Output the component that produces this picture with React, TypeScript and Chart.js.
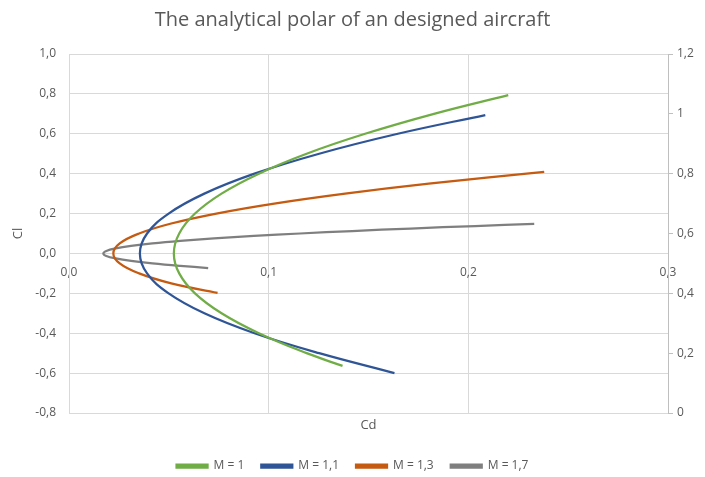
import React, { useEffect, useRef } from "react";
import { Chart, registerables } from "chart.js";

Chart.register(...registerables);

const chartTitle = "The analytical polar of an designed aircraft";
const xAxisTitle = "Cd";
const yAxisTitle = "Cl";
const seriesNames = ["M = 1", "M = 1,1", "M = 1,3", "M = 1,7"];
const seriesColors = ["#70AD47", "#2F5597", "#C55A11", "#7F7F7F"];

// M = 1
const m1Cd = [0.137, 0.119, 0.0951, 0.0764, 0.0631, 0.0552, 0.0525, 0.0552, 0.0631, 0.0764, 0.0951, 0.119, 0.1483, 0.1828, 0.22];
const m1Cl = [-0.564, -0.5, -0.4, -0.3, -0.2, -0.1, 0, 0.1, 0.2, 0.3, 0.4, 0.5, 0.6, 0.7, 0.794];
// M = 1,1
const m11Cd = [0.163, 0.1253, 0.0929, 0.0678, 0.0499, 0.0391, 0.0355, 0.0391, 0.0499, 0.0678, 0.0929, 0.1253, 0.1647, 0.2085];
const m11Cl = [-0.6, -0.5, -0.4, -0.3, -0.2, -0.1, 0, 0.1, 0.2, 0.3, 0.4, 0.5, 0.6, 0.694];
// M = 1,3
const m13Cd = [0.0744, 0.0512, 0.0351, 0.0254, 0.0222, 0.0254, 0.0351, 0.0512, 0.0738, 0.1028, 0.1383, 0.1802, 0.238];
const m13Cl = [-0.198, -0.15, -0.1, -0.05, 0, 0.05, 0.1, 0.15, 0.2, 0.25, 0.3, 0.35, 0.409];
// M = 1,7
const m17Cd = [0.0697, 0.0557, 0.0418, 0.0311, 0.0234, 0.0187, 0.0172, 0.0187, 0.0234, 0.0311, 0.0418, 0.0557, 0.0726, 0.0926, 0.1157, 0.1419, 0.1711, 0.2034, 0.233];
const m17Cl = [-0.073, -0.0625, -0.05, -0.0375, -0.025, -0.0125, 0, 0.0125, 0.025, 0.0375, 0.05, 0.0625, 0.075, 0.0875, 0.1, 0.1125, 0.125, 0.1375, 0.148];

const seriesCd = [m1Cd, m11Cd, m13Cd, m17Cd];
const seriesCl = [m1Cl, m11Cl, m13Cl, m17Cl];

const xMin = 0, xMax = 0.3, xStep = 0.1;
const yMin = -0.8, yMax = 1.0, yStep = 0.2;
const y2Min = 0, y2Max = 1.2, y2Step = 0.2;

const FONT = "'Open Sans', Lato, sans-serif";
const TEXT = "#595959";
const GRID = "#D9D9D9";

const fmt = (v: number) => {
  const r = Math.round(v * 10) / 10;
  return (Object.is(r, -0) ? 0 : r).toFixed(1).replace(".", ",");
};
const fmtGeneral = (v: number) => {
  const r = Math.round(v * 10) / 10;
  return String(r).replace(".", ",");
};

const cdTitlePlugin = {
  id: "cdTitle",
  afterDraw(chart: any) {
    const { ctx, chartArea } = chart;
    ctx.save();
    ctx.font = `13px ${FONT}`;
    ctx.fillStyle = TEXT;
    ctx.textAlign = "center";
    ctx.textBaseline = "middle";
    ctx.fillText(xAxisTitle, (chartArea.left + chartArea.right) / 2, chartArea.bottom + 12);
    ctx.restore();
  },
};

export default function App() {
  const ref = useRef<HTMLCanvasElement>(null);
  useEffect(() => {
    if (!ref.current) return;
    const datasets = seriesNames.map((name, i) => ({
      label: name,
      data: seriesCd[i].map((x, j) => ({ x, y: seriesCl[i][j] })),
      borderColor: seriesColors[i],
      backgroundColor: seriesColors[i],
      borderWidth: 2.25,
      pointRadius: 0,
      pointHoverRadius: 0,
      showLine: true,
      tension: 0.4,
      fill: false,
      xAxisID: "x",
      yAxisID: "y",
    }));
    const chart = new Chart(ref.current, {
      type: "scatter",
      data: { datasets },
      plugins: [cdTitlePlugin],
      options: {
        animation: false,
        responsive: false,
        layout: { padding: { left: 0, right: 0, top: 0, bottom: -5 } },
        plugins: {
          title: {
            display: true,
            text: chartTitle,
            color: TEXT,
            font: { family: FONT, size: 20, weight: "normal" },
            padding: { top: 8, bottom: 22 },
          },
          legend: {
            position: "bottom",
            labels: {
              color: TEXT,
              font: { family: FONT, size: 12 },
              boxWidth: 31,
              boxHeight: 3,
              padding: 17,
            },
          },
          tooltip: { enabled: false },
        },
        scales: {
          x: {
            type: "linear",
            position: { y: 0 } as any,
            min: xMin,
            max: xMax,
            ticks: {
              stepSize: xStep,
              color: TEXT,
              font: { family: FONT, size: 12 },
              padding: 12,
              callback: (v: any) => fmt(Number(v)),
            },
            grid: { color: GRID, drawTicks: false, lineWidth: 1 },
            border: { color: GRID },
          },
          xSpacer: {
            type: "linear",
            position: "bottom",
            min: xMin,
            max: xMax,
            display: true,
            afterFit: (s: any) => { s.height = 30; },
            ticks: { display: false },
            grid: { display: false, drawTicks: false },
            border: { display: false },
          },
          y: {
            type: "linear",
            position: "left",
            min: yMin,
            max: yMax,
            afterFit: (s: any) => { s.width = 69; },
            ticks: {
              stepSize: yStep,
              color: TEXT,
              font: { family: FONT, size: 12 },
              padding: 13,
              callback: (v: any) => fmt(Number(v)),
            },
            grid: { color: GRID, drawTicks: false },
            border: { color: GRID },
            title: {
              display: true,
              text: yAxisTitle,
              color: TEXT,
              font: { family: FONT, size: 13 },
              padding: { top: 10, bottom: 0 },
            },
          },
          y2: {
            type: "linear",
            position: "right",
            min: y2Min,
            max: y2Max,
            afterFit: (s: any) => { s.width = 37; },
            ticks: {
              stepSize: y2Step,
              color: TEXT,
              font: { family: FONT, size: 12 },
              padding: 4,
              callback: (v: any) => fmtGeneral(Number(v)),
            },
            grid: { drawOnChartArea: false, drawTicks: true, tickLength: 5, color: "#BFBFBF" },
            border: { color: "#BFBFBF" },
          },
        },
      },
    });
    return () => chart.destroy();
  }, []);
  return (
    <div style={{ position: "fixed", left: 0, top: 0, width: 705, height: 477, background: "#fff" }}>
      <canvas ref={ref} width={705} height={477} style={{ display: "block", width: 705, height: 477 }} />
    </div>
  );
}
